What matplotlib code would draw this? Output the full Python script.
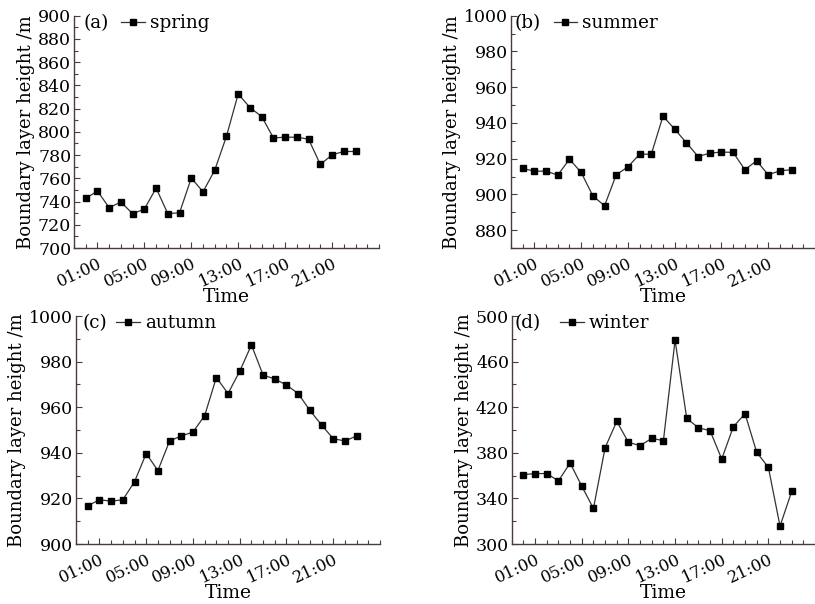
import matplotlib
matplotlib.use("Agg")
import matplotlib.pyplot as plt
from matplotlib.ticker import MultipleLocator, FixedLocator
from matplotlib.lines import Line2D

plt.rcParams['font.family'] = ['DejaVu Serif']
plt.rcParams['mathtext.fontset'] = 'dejavuserif'

hours = list(range(24))
tick_hours = [1, 5, 9, 13, 17, 21]
tick_labels = ["01:00", "05:00", "09:00", "13:00", "17:00", "21:00"]

spring = [742.7, 749.0, 734.7, 739.6, 729.5, 733.5, 751.6, 729.5, 730.4, 760.2,
          748.4, 767.0, 796.3, 832.7, 820.9, 813.2, 794.8, 795.4, 795.4, 793.7,
          771.9, 780.2, 783.1, 783.1]
summer = [914.5, 913.0, 913.0, 910.8, 919.7, 912.3, 899.2, 893.6, 911.0, 915.4,
          922.5, 922.5, 943.8, 936.5, 928.9, 921.2, 923.1, 923.7, 923.5, 913.8,
          918.8, 911.0, 913.2, 913.8]
autumn = [916.8, 919.4, 918.8, 919.4, 927.3, 939.7, 932.2, 945.2, 947.4, 949.1,
          956.3, 973.0, 966.0, 975.8, 987.3, 974.1, 972.4, 969.7, 966.0, 958.6,
          952.2, 946.2, 945.2, 947.4]
winter = [360.9, 361.8, 361.8, 355.4, 371.1, 350.7, 331.2, 384.5, 407.6, 389.2,
          386.3, 392.7, 390.7, 478.7, 410.2, 402.0, 399.4, 374.6, 402.9, 414.3,
          380.5, 367.3, 315.7, 346.1]

panels = [
    ("(a)", "spring", spring, (700, 900), list(range(700, 901, 20)), 10,
     [0.0908, 0.5894, 0.3742, 0.3846], 0.030, 0.155),
    ("(b)", "summer", summer, (870, 1000), list(range(880, 1001, 20)), 10,
     [0.627, 0.5894, 0.373, 0.3846], 0.013, 0.140),
    ("(c)", "autumn", autumn, (900, 1000), list(range(900, 1001, 20)), 10,
     [0.0933, 0.0993, 0.3730, 0.3775], 0.020, 0.133),
    ("(d)", "winter", winter, (300, 500), list(range(300, 501, 40)), 20,
     [0.628, 0.0993, 0.372, 0.3775], 0.010, 0.160),
]

fig = plt.figure(figsize=(8.15, 6.04), dpi=100)
spine_color = "#4a3c3c"
fs_ytick = 12.5
fs_xtick = 11.8
fs_lab = 13
fs_leg = 13.2

for tag, name, vals, ylim, yticks, minor, rect, tag_x, leg_x in panels:
    ax = fig.add_axes(rect)
    ax.plot(hours, vals, color="#333333", lw=0.9, marker="s", ms=5.0,
            mfc="black", mec="black")
    ax.set_xlim(-1, 25)
    ax.set_ylim(*ylim)
    ax.yaxis.set_major_locator(FixedLocator(yticks))
    ax.yaxis.set_minor_locator(MultipleLocator(minor))
    ax.xaxis.set_major_locator(FixedLocator(tick_hours))
    ax.xaxis.set_minor_locator(MultipleLocator(1))
    ax.set_xticklabels(tick_labels, rotation=25, ha="right", rotation_mode="anchor")
    for s in ("top", "right"):
        ax.spines[s].set_visible(False)
    for s in ("left", "bottom"):
        ax.spines[s].set_color(spine_color)
        ax.spines[s].set_linewidth(1.0)
    ax.tick_params(which="both", direction="in", color=spine_color)
    ax.tick_params(axis="y", labelsize=fs_ytick, pad=2)
    ax.tick_params(axis="x", labelsize=fs_xtick, pad=5)
    ax.tick_params(which="major", length=4, width=0.8)
    ax.tick_params(which="minor", length=3, width=0.8)
    ax.set_xlabel("Time", fontsize=13.5, labelpad=-1.5)
    ax.set_ylabel("Boundary layer height /m", fontsize=fs_lab, labelpad=2)
    ax.text(tag_x, 0.968, tag, transform=ax.transAxes, fontsize=fs_leg,
            ha="left", va="center")
    h = Line2D([], [], color="#333333", lw=0.9, marker="s", ms=5.0,
               mfc="black", mec="black")
    ax.legend([h], [name], loc="center left", bbox_to_anchor=(leg_x, 0.968),
              frameon=False, fontsize=fs_leg, handlelength=1.3, handletextpad=0.25,
              borderaxespad=0, borderpad=0.0)

fig.savefig("out.png", dpi=100)
